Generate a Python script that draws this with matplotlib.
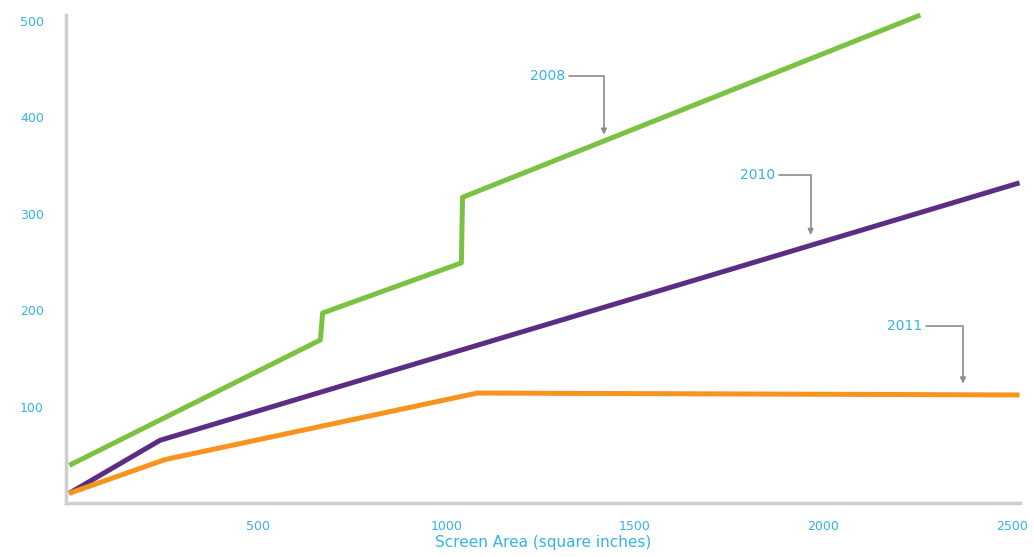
# Import Libraries
import matplotlib
matplotlib.use("Agg")
import matplotlib.pyplot as plt

# Data
x_2008 = [0, 666, 672, 1040, 1043, 2257]
y_2008 = [39, 169, 197, 249, 317, 506]

x_2010 = [0, 241, 2520]
y_2010 = [10, 65, 332]

x_2011 = [0, 254, 1082, 2520]
y_2011 = [10, 45, 114, 112]

x_ticks = [500, 1000, 1500, 2000, 2500]
y_ticks = [100, 200, 300, 400, 500]

# label text, text anchor (x, y), arrow tip (x, y)
labels = ["2008", "2010", "2011"]
label_xy = [(1315, 443), (1872, 340), (2262, 184)]
tip_xy = [(1418, 382), (1966, 278), (2370, 124)]

CYAN = "#35b3e4"
GREEN = "#7cc242"
PURPLE = "#5c2d84"
ORANGE = "#f7941d"
GRAY = "#8c8c8c"

# Plot Data
fig = plt.figure(figsize=(10.34, 5.57), dpi=100)
ax = fig.add_axes([0.064, 0.097, 0.922, 0.876])

ax.plot(x_2008, y_2008, color=GREEN, lw=3.6, solid_capstyle="butt", clip_on=False)
ax.plot(x_2010, y_2010, color=PURPLE, lw=3.6, solid_capstyle="butt", clip_on=False)
ax.plot(x_2011, y_2011, color=ORANGE, lw=3.6, solid_capstyle="butt", clip_on=False)

for text, (tx, ty), (px, py) in zip(labels, label_xy, tip_xy):
    ax.annotate(text, xy=(px, py), xytext=(tx, ty), ha="right", va="center",
                color=CYAN, fontsize=10,
                arrowprops=dict(arrowstyle="-|>", color=GRAY, lw=1.2,
                                shrinkA=1, shrinkB=0, mutation_scale=8,
                                connectionstyle="angle,angleA=0,angleB=90,rad=0"))

ax.set_xlim(-8, 2520)
ax.set_ylim(0, 506)
ax.set_xticks(x_ticks)
ax.set_yticks(y_ticks)
ax.tick_params(length=0, colors=CYAN, labelsize=9)
ax.tick_params(axis="x", pad=12)
ax.tick_params(axis="y", pad=16)

for side in ["top", "right"]:
    ax.spines[side].set_visible(False)
for side in ["left", "bottom"]:
    ax.spines[side].set_color("#cfcfcf")
    ax.spines[side].set_linewidth(2.5)

ax.set_xlabel("Screen Area (square inches)", color=CYAN, fontsize=11, labelpad=2)

fig.savefig("out.png", dpi=100)
